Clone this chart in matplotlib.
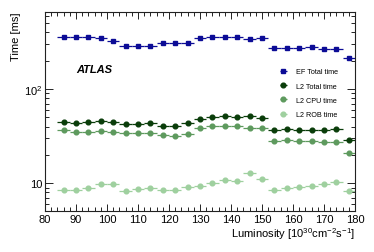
import matplotlib

matplotlib.use("Agg")
import matplotlib.pyplot as plt
from matplotlib.ticker import FixedLocator, NullFormatter, FixedFormatter, MultipleLocator

plt.rcParams["font.family"] = ["Liberation Sans", "DejaVu Sans"]
plt.rcParams["mathtext.fontset"] = "custom"
plt.rcParams["mathtext.rm"] = "Liberation Sans"

lumi = [86, 90, 94, 98, 102, 106, 110, 114, 118, 122, 126, 130,
        134, 138, 142, 146, 150, 154, 158, 162, 166, 170, 174, 178]
ef_total = [355, 355, 355, 350, 321, 285, 285, 285, 306, 306, 306, 349,
            355, 355, 355, 340, 346, 273, 273, 273, 277, 267, 267, 212]
l2_total = [44.9, 43.2, 44.2, 46.0, 44.9, 42.1, 42.5, 43.2, 41.0, 40.1, 43.2, 48.0,
            50.0, 52.0, 50.0, 51.2, 49.1, 36.6, 37.5, 36.6, 36.8, 36.6, 37.5, 28.9]
l2_cpu = [36.6, 35.2, 35.4, 36.0, 35.4, 34.1, 33.8, 34.1, 32.7, 31.8, 33.2, 38.5,
          40.1, 40.8, 40.1, 38.5, 38.5, 27.8, 28.7, 27.8, 27.8, 27.1, 27.1, 21.2]
l2_rob = [8.55, 8.48, 8.98, 9.84, 9.76, 8.28, 8.63, 8.91, 8.48, 8.55, 9.1, 9.42,
          10.0, 10.8, 10.5, 12.8, 11.1, 8.55, 8.91, 9.14, 9.42, 9.84, 10.4, 8.28]

series = [
    ("EF Total time", ef_total, "s", "#0c0c96"),
    ("L2 Total time", l2_total, "o", "#0a3d0a"),
    ("L2 CPU time", l2_cpu, "o", "#5e9a5e"),
    ("L2 ROB time", l2_rob, "o", "#9fd09f"),
]

fig = plt.figure(figsize=(3.74, 2.53), dpi=100)
ax = fig.add_axes([45 / 374, 1 - 212 / 253, 310 / 374, 199 / 253])

for name, vals, mk, col in series:
    ax.errorbar(lumi, vals, xerr=2, fmt=mk, color=col, ms=3.4, lw=0.9,
                elinewidth=0.9, capsize=0, label=name)

ax.set_xlim(80, 180)
ax.set_yscale("log")
ax.set_ylim(5.07, 660)

ax.xaxis.set_major_locator(MultipleLocator(10))
ax.xaxis.set_minor_locator(MultipleLocator(2))
ax.yaxis.set_major_locator(FixedLocator([10, 100]))
ax.yaxis.set_major_formatter(FixedFormatter(["10", "$10^2$"]))
minors = [m * 10.0 ** e for e in (0, 1, 2) for m in range(2, 10)]
ax.yaxis.set_minor_locator(FixedLocator(minors))
ax.yaxis.set_minor_formatter(NullFormatter())

ax.tick_params(which="both", direction="in", top=True, right=True,
               labelsize=8, width=0.6, pad=2)
ax.tick_params(which="major", length=6)
ax.tick_params(which="minor", length=3)
ax.tick_params(axis="x", which="major", length=5)
for sp in ax.spines.values():
    sp.set_linewidth(0.8)
    sp.set_color("#222222")

ax.set_xlabel("Luminosity [$10^{30}$cm$^{-2}$s$^{-1}$]", fontsize=8,
              loc="right", labelpad=1)
ax.set_ylabel("Time [ms]", fontsize=8, loc="top", labelpad=2)

ax.text(0.1, 0.7, "ATLAS", transform=ax.transAxes, fontsize=8,
        fontweight="bold", style="italic")

ax.legend(loc="upper left", bbox_to_anchor=(0.72, 0.75), fontsize=5.2,
          frameon=False, handlelength=2.4, labelspacing=1.0, handletextpad=0.5)

fig.savefig("out.png", dpi=100)
